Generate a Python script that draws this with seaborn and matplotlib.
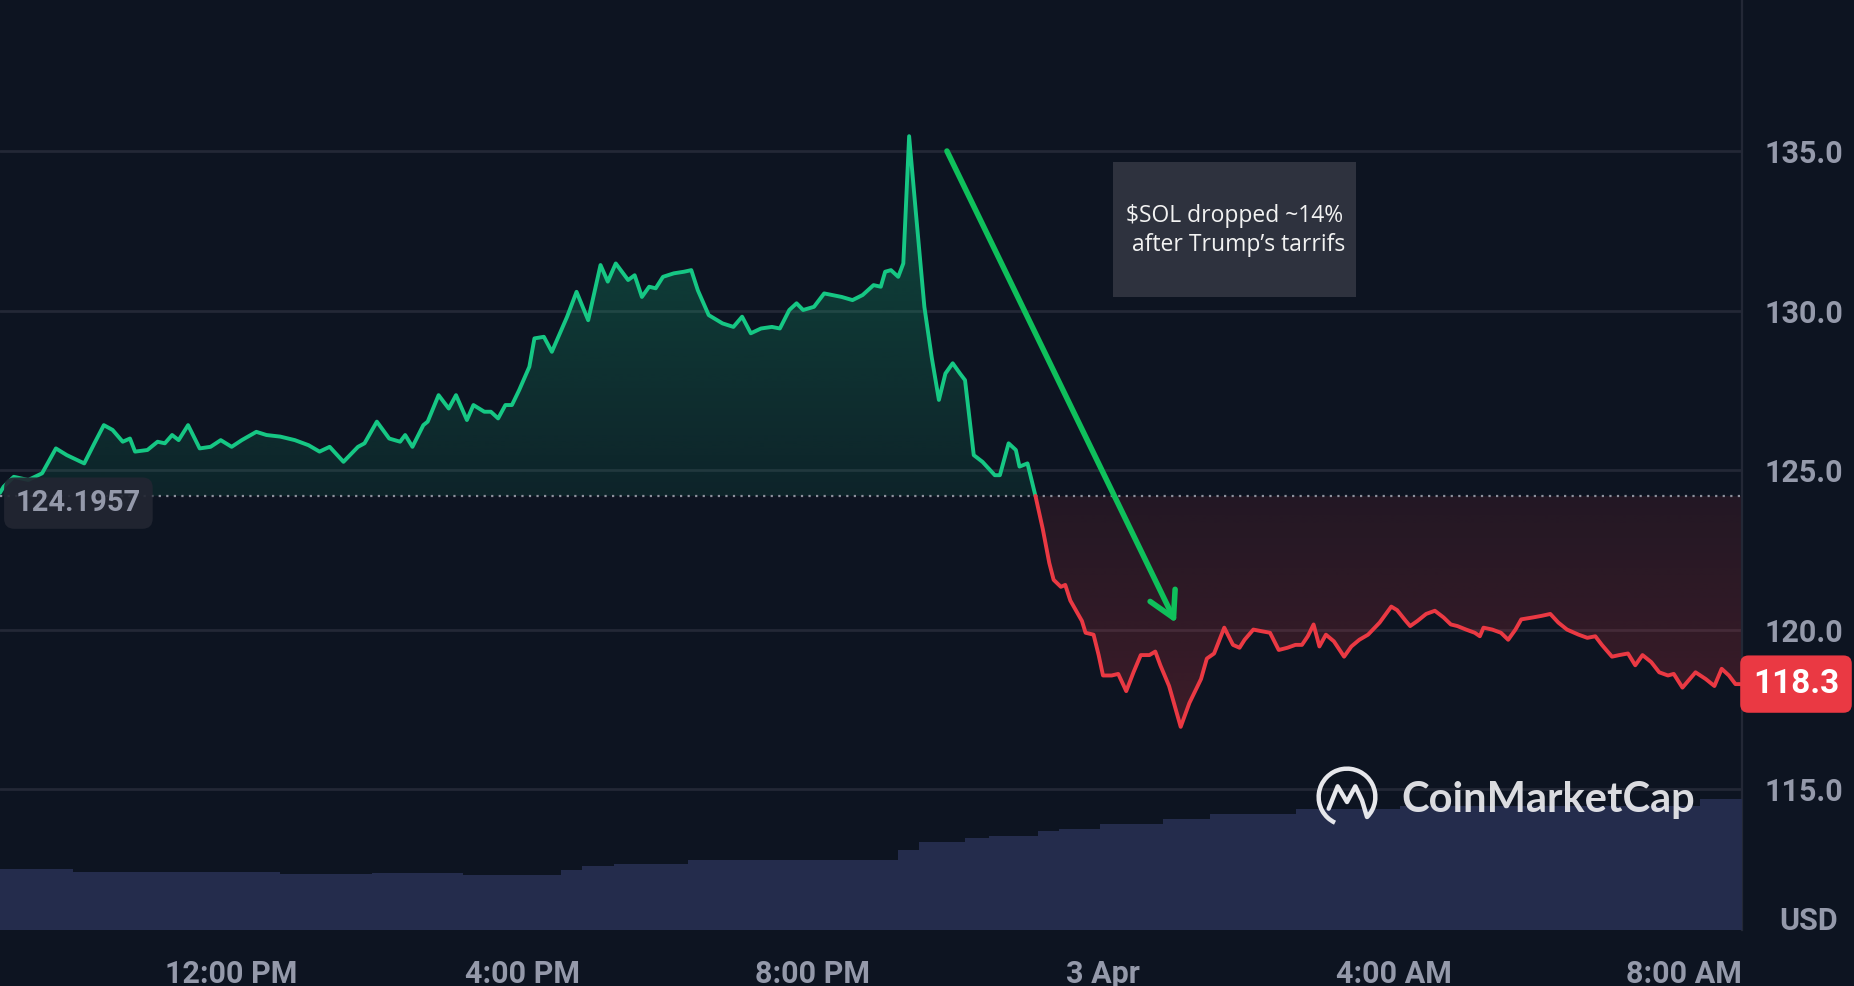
import numpy as np
import pandas as pd
import matplotlib
matplotlib.use("Agg")
import matplotlib.pyplot as plt
import matplotlib.dates as mdates
from matplotlib.patches import Arc, Rectangle
from matplotlib.path import Path
from matplotlib.colors import to_rgb
import seaborn as sns

# SOL/USD, hours after midnight on 2 Apr
up_hours = [8.81, 8.86, 9.00, 9.20, 9.39, 9.58, 9.73, 9.97, 10.11, 10.24, 10.36, 10.50, 10.60,
            10.67, 10.84, 10.98, 11.08, 11.18, 11.27, 11.40, 11.56, 11.71, 11.85, 12.00, 12.14,
            12.34, 12.48, 12.67, 12.87, 13.06, 13.21, 13.35, 13.54, 13.74, 13.83, 14.00, 14.17,
            14.32, 14.39, 14.49, 14.64, 14.70, 14.85, 14.99, 15.09, 15.24, 15.33, 15.48, 15.57,
            15.67, 15.77, 15.86, 15.96, 16.10, 16.17, 16.30, 16.41, 16.54, 16.62, 16.75, 16.91,
            17.08, 17.18, 17.29, 17.46, 17.55, 17.65, 17.75, 17.84, 17.94, 18.09, 18.23, 18.33,
            18.42, 18.57, 18.76, 18.91, 19.03, 19.15, 19.29, 19.44, 19.55, 19.68, 19.78, 19.87,
            20.02, 20.16, 20.40, 20.55, 20.69, 20.84, 20.94, 21.00, 21.08, 21.18, 21.25, 21.33,
            21.42, 21.54, 21.64, 21.74, 21.83, 21.93, 22.03, 22.10, 22.22, 22.34, 22.51, 22.58,
            22.70, 22.80, 22.85, 22.96, 23.07]
up_price = [124.30, 124.49, 124.80, 124.70, 124.91, 125.69, 125.48, 125.22, 125.85, 126.42, 126.27,
            125.90, 126.00, 125.59, 125.64, 125.90, 125.85, 126.11, 125.95, 126.42, 125.69, 125.74,
            125.95, 125.74, 125.95, 126.21, 126.11, 126.06, 125.95, 125.79, 125.59, 125.74, 125.27,
            125.74, 125.85, 126.53, 126.00, 125.90, 126.11, 125.74, 126.42, 126.53, 127.36, 126.94,
            127.36, 126.58, 127.05, 126.84, 126.84, 126.63, 127.05, 127.05, 127.52, 128.25, 129.14,
            129.19, 128.72, 129.40, 129.82, 130.60, 129.71, 131.44, 130.92, 131.49, 130.97, 131.12,
            130.44, 130.76, 130.71, 131.07, 131.18, 131.23, 131.28, 130.65, 129.87, 129.61, 129.50,
            129.82, 129.30, 129.45, 129.50, 129.45, 130.03, 130.24, 130.03, 130.13, 130.55, 130.44,
            130.34, 130.50, 130.81, 130.76, 131.23, 131.28, 131.07, 131.49, 135.48, 133.16, 130.13,
            128.56, 127.21, 128.04, 128.36, 128.04, 127.83, 125.48, 125.27, 124.85, 124.85, 125.85,
            125.64, 125.12, 125.22, 124.20]

down_hours = [23.07, 23.17, 23.26, 23.32, 23.42, 23.48, 23.55, 23.63, 23.71, 23.76, 23.87, 23.94,
              24.00, 24.12, 24.21, 24.32, 24.42, 24.52, 24.64, 24.72, 24.79, 24.91, 25.07, 25.19,
              25.35, 25.43, 25.53, 25.67, 25.79, 25.88, 25.95, 26.07, 26.18, 26.30, 26.42, 26.54,
              26.65, 26.74, 26.82, 26.90, 26.98, 27.07, 27.18, 27.32, 27.42, 27.53, 27.65, 27.81,
              27.97, 28.05, 28.17, 28.23, 28.33, 28.45, 28.57, 28.69, 28.79, 28.88, 29.00, 29.12,
              29.19, 29.24, 29.36, 29.48, 29.58, 29.68, 29.76, 29.92, 30.04, 30.16, 30.27, 30.39,
              30.55, 30.67, 30.78, 30.87, 31.01, 31.11, 31.23, 31.33, 31.43, 31.55, 31.66, 31.78,
              31.86, 31.98, 32.16, 32.30, 32.42, 32.52, 32.62, 32.71, 32.80]
down_price = [124.20, 123.17, 122.10, 121.57, 121.35, 121.41, 120.92, 120.60, 120.28, 119.91, 119.85,
              119.21, 118.57, 118.57, 118.62, 118.08, 118.67, 119.21, 119.21, 119.32, 118.89, 118.24,
              116.96, 117.71, 118.46, 119.10, 119.26, 120.07, 119.53, 119.44, 119.69, 120.01, 119.96,
              119.91, 119.37, 119.44, 119.53, 119.53, 119.80, 120.17, 119.48, 119.85, 119.64, 119.16,
              119.48, 119.69, 119.85, 120.23, 120.73, 120.62, 120.28, 120.12, 120.28, 120.50, 120.60,
              120.39, 120.17, 120.12, 120.01, 119.91, 119.80, 120.07, 120.01, 119.91, 119.69, 120.01,
              120.33, 120.39, 120.44, 120.50, 120.23, 120.01, 119.85, 119.75, 119.80, 119.53, 119.16,
              119.21, 119.26, 118.89, 119.21, 118.99, 118.67, 118.57, 118.62, 118.19, 118.67, 118.46,
              118.24, 118.78, 118.57, 118.30, 118.30]

# 24h volume, billions USD (step changes)
vol_hours = [8.81, 9.82, 12.67, 13.93, 15.19, 16.54, 16.83, 17.26, 18.28, 21.18, 21.47, 22.10,
             22.43, 23.10, 23.40, 23.96, 24.83, 25.47, 26.66, 28.09, 32.22]
vol_billions = [3.05, 2.90, 2.80, 2.85, 2.75, 2.98, 3.20, 3.30, 3.50, 4.00, 4.38, 4.60, 4.70, 4.95,
                5.05, 5.30, 5.55, 5.80, 6.05, 6.20, 6.55]

open_price = 124.1957
last_price = 118.3
price_ticks = [115, 120, 125, 130, 135]
tick_hours = [12, 16, 20, 24, 28, 32]
tick_labels = ["12:00 PM", "4:00 PM", "8:00 PM", "3 Apr", "4:00 AM", "8:00 AM"]
note_lines = ["$SOL dropped ~14%", " after Trump\u2019s tarrifs"]

BG = "#0d1421"
GRID = "#232836"
GREEN = "#16c784"
RED = "#ea3943"
ARROW = "#0fc05b"
LABEL = "#9499aa"
VOL = "#242c4c"

day0 = pd.Timestamp("2025-04-02")
up = pd.DataFrame({"time": day0 + pd.to_timedelta(up_hours, unit="h"), "price": up_price})
down = pd.DataFrame({"time": day0 + pd.to_timedelta(down_hours, unit="h"), "price": down_price})

sns.set_style("dark")
plt.rcParams["font.family"] = ["Roboto", "DejaVu Sans"]

fig = plt.figure(figsize=(18.54, 9.86), dpi=100, facecolor=BG)
ax = fig.add_axes([0, 56 / 986, 1742 / 1854, 930 / 986])
ax.set_facecolor(BG)

sns.lineplot(data=up, x="time", y="price", color=GREEN, lw=2.8, estimator=None, ax=ax, zorder=4)
sns.lineplot(data=down, x="time", y="price", color=RED, lw=2.8, estimator=None, ax=ax, zorder=4)


def gradient_fill(ax, df, base, color, a_base, a_far):
    poly = ax.fill_between(df["time"], df["price"], base, facecolor="none", lw=0)
    path = Path.make_compound_path(*poly.get_paths())
    poly.remove()
    above = df["price"].mean() > base
    far = df["price"].max() if above else df["price"].min()
    alpha = np.linspace(a_base, a_far, 256)
    if not above:
        alpha = alpha[::-1]
    rgba = np.zeros((256, 1, 4))
    rgba[..., :3] = to_rgb(color)
    rgba[:, 0, 3] = alpha
    x0 = mdates.date2num(df["time"].iloc[0])
    x1 = mdates.date2num(df["time"].iloc[-1])
    im = ax.imshow(rgba, extent=[x0, x1, min(base, far), max(base, far)], origin="lower",
                   aspect="auto", zorder=2, interpolation="bilinear")
    im.set_clip_path(path, transform=ax.transData)


gradient_fill(ax, up, open_price, GREEN, 0.09, 0.30)
gradient_fill(ax, down, open_price, RED, 0.10, 0.22)

ax.axhline(open_price, color="#8d919d", lw=1.6, ls=(0, (1, 2.4)), zorder=3)

t_start, t_end = up["time"].iloc[0], down["time"].iloc[-1]

# volume on its own scale at the bottom
axv = ax.twinx()
vt = list(day0 + pd.to_timedelta(vol_hours, unit="h")) + [t_end]
axv.fill_between(vt, vol_billions + [vol_billions[-1]], step="post", color=VOL, lw=0)
axv.set_ylim(0, 46.5)
axv.set_xlim(t_start, t_end)
axv.set_axis_off()

ax.set_xlim(t_start, t_end)
ax.set_ylim(110.59, 139.75)
ax.yaxis.tick_right()
ax.set_yticks(price_ticks)
ax.set_yticklabels([f"{p:.1f}" for p in price_ticks])
ax.set_xticks([day0 + pd.Timedelta(hours=h) for h in tick_hours])
ax.set_xticklabels(tick_labels)
ax.tick_params(axis="y", which="both", left=False, right=False, labelleft=False,
               labelright=True, length=0, pad=16, labelsize=22, labelcolor=LABEL)
ax.tick_params(axis="x", length=0, pad=21, labelsize=22, labelcolor=LABEL)
for lab in ax.get_xticklabels() + ax.get_yticklabels():
    lab.set_fontweight("semibold")
ax.set_xlabel("")
ax.set_ylabel("")
ax.grid(axis="y", color=GRID, lw=2)
ax.grid(axis="x", visible=False)
for side in ["top", "left", "bottom"]:
    ax.spines[side].set_visible(False)
ax.spines["right"].set_visible(True)
ax.spines["right"].set_color(GRID)
ax.spines["right"].set_linewidth(1.6)

# annotation
ax.add_patch(Rectangle((0.639, 0.6806), 0.1395, 0.1452, transform=ax.transAxes,
                       facecolor="#2e323e", edgecolor="none", zorder=5))
for i, line in enumerate(note_lines):
    ax.text(0.6464, 0.7613 - i * 0.0312, line, transform=ax.transAxes, color="#f2f2f2",
            fontsize=16.5, family=["Open Sans", "DejaVu Sans"], va="baseline", ha="left",
            zorder=6, parse_math=False)
ax.annotate("", xy=(0.6751, 0.3301), xytext=(0.5436, 0.8376),
            xycoords="axes fraction", textcoords="axes fraction",
            arrowprops=dict(arrowstyle="->,head_length=0.9,head_width=0.5", color=ARROW, lw=4,
                            mutation_scale=20, shrinkA=0, shrinkB=0), zorder=6)

# price labels
ax.annotate(f"{open_price}", xy=(0.045, 0.459), xycoords="axes fraction", ha="center",
            va="center", color=LABEL, fontsize=21, fontweight="bold", zorder=7,
            bbox=dict(boxstyle="round,pad=0.4,rounding_size=0.35", fc="#222632", ec="none",
                      alpha=0.92))
ax.annotate(f"{last_price}", xy=(1.031, last_price), xycoords=("axes fraction", "data"),
            ha="center", va="center", color="white", fontsize=24, fontweight="bold", zorder=7,
            annotation_clip=False,
            bbox=dict(boxstyle="round,pad=0.38,rounding_size=0.25", fc=RED, ec="none"))
fig.text(1809 / 1854, (986 - 921) / 986, "USD", color=LABEL, fontsize=22, fontweight="bold",
         ha="center", va="center")

# watermark
fig.text(1401 / 1854, (986 - 800) / 986, "CoinMarketCap", color="#e6e7eb", fontsize=30,
         fontweight="bold", family=["Lato", "DejaVu Sans"], ha="left", va="center", alpha=0.95)
lax = fig.add_axes([(1347 - 40) / 1854, (986 - 797 - 40) / 986, 80 / 1854, 80 / 986])
lax.set_zorder(5)
lax.set_xlim(-1.2, 1.2)
lax.set_ylim(-1.2, 1.2)
lax.set_aspect("equal")
lax.set_axis_off()
lax.add_patch(Arc((0, 0), 1.7, 1.7, theta1=-45, theta2=245, color="#e6e7eb", lw=3.2))
lax.plot([-0.55, -0.28, 0.0, 0.25, 0.45, 0.6], [-0.35, 0.32, -0.15, 0.32, -0.1, -0.6],
         color="#e6e7eb", lw=3.2, solid_joinstyle="round", solid_capstyle="round")

fig.savefig("out.png", dpi=100, facecolor=BG)
